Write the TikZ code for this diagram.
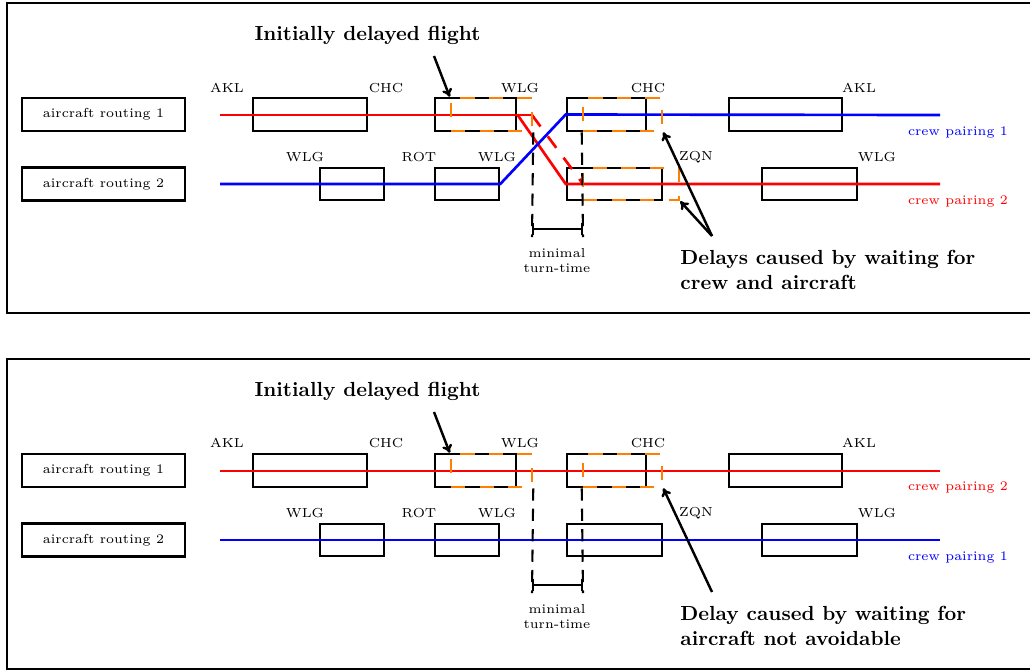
\documentclass[tikz,border=0pt]{standalone}
\usetikzlibrary{fit,arrows.meta}
\begin{document}
\begin{tikzpicture}[x=0.49pt,y=-0.49pt,
  frame/.style={line width=1.3pt},
  flight/.style={draw,line width=1.25pt,inner sep=0pt},
  delayed/.style={draw=orange,line width=1.25pt,dash pattern=on 7pt off 7pt,inner sep=0pt},
  routing/.style={draw,line width=1.25pt,inner sep=0pt,minimum width=79.9pt,minimum height=16.2pt,font=\fontsize{6.4}{7.7}\selectfont},
  airport/.style={inner sep=0pt,font=\fontsize{6.4}{7.7}\selectfont},
  route/.style={line width=1.3pt},
  reddash/.style={line width=1.3pt,red,dash pattern=on 7pt off 6pt},
  turn/.style={line width=1pt,dash pattern=on 6pt off 4pt},
  interval/.style={line width=1pt,{Bar[width=6pt]}-{Bar[width=6pt]}},
  callout/.style={inner sep=0pt,font=\fontsize{10}{12}\selectfont\bfseries,align=left},
  pointer/.style={line width=1.2pt,-{To[length=4pt,width=5pt]}},
]
\useasboundingbox (0,0) rectangle (1030,670);

% ================= top panel =================
\draw[frame] (1030,3) -- (7,3) -- (7,313) -- (1030,313);
\node[routing] (a-r1) at (103.5,114.5) {aircraft routing 1};
\node[routing] (a-r2) at (103.5,184) {aircraft routing 2};
\node[flight, fit={(253,98) (367,131)}] (a-f11) {};
\node[flight, fit={(435,98) (516,131)}] (a-f12) {};
\node[flight, fit={(567,98) (646,131)}] (a-f13) {};
\node[flight, fit={(729,98) (842,131)}] (a-f14) {};
\node[flight, fit={(320,168) (384,200)}] (a-f21) {};
\node[flight, fit={(435,168) (499,200)}] (a-f22) {};
\node[flight, fit={(567,168) (662,200)}] (a-f23) {};
\node[flight, fit={(762,168) (857,200)}] (a-f24) {};
\node[airport] (a-l1) at (227,88) {AKL};
\node[airport] (a-l2) at (386,88) {CHC};
\node[airport] (a-l3) at (520,88) {WLG};
\node[airport] (a-l4) at (648,88) {CHC};
\node[airport] (a-l5) at (859,88) {AKL};
\node[airport] (a-m1) at (305,157) {WLG};
\node[airport] (a-m2) at (419,157) {ROT};
\node[airport] (a-m3) at (497,157) {WLG};
\node[airport] (a-m4) at (696,157) {ZQN};
\node[airport] (a-m5) at (877,157) {WLG};
\coordinate (a-s1) at (220,115);
\coordinate (a-e1) at (940,115);
\coordinate (a-s2) at (220,184);
\coordinate (a-e2) at (940,184);
\coordinate (a-k2) at (532,115);
\coordinate (a-k4) at (583,184);
\draw[route,red] (a-s1) -- (a-k2);
\draw[route,red] (a-f12.east) -- (a-f23.west) -- (a-e2);
\draw[reddash] (a-k2) -- (a-k4);
\draw[route,blue] (a-s2) -- (a-f22.east) -- (a-f13.west) -- (a-e1);
\node[delayed, fit={(451,98) (532,131)}] (a-d1) {};
\node[delayed, fit={(583,98) (662,131)}] (a-d2) {};
\node[delayed, fit={(583,168) (679,200)}] (a-d3) {};
\coordinate (a-v1) at (532,237);
\coordinate (a-v2) at (583,237);
\draw[turn] (a-d1.south east) -- (a-v1);
\draw[turn] (a-d2.south west) -- (a-v2);
\coordinate (a-t1) at (532,229);
\coordinate (a-t2) at (583,229);
\draw[interval] (a-t1) -- (a-t2);
\node[airport, align=center] (a-mtt) at (557,260.5) {minimal\\turn-time};
\node[airport, text=blue] (a-c1) at (958,132) {crew pairing 1};
\node[airport, text=red] (a-c2) at (958,201) {crew pairing 2};
\node[callout, anchor=base] (a-init) at (367.5,40) {Initially delayed flight};
\coordinate (a-p1) at (434,56);
\draw[pointer] (a-p1) -- (a-d1.north west);
\node[callout, anchor=north west] (a-why) at (680,250) {Delays caused by waiting for\\crew and aircraft};
\coordinate (a-p2) at (712,236);
\draw[pointer] (a-p2) -- (a-d2.south east);
\draw[pointer] (a-p2) -- (a-d3.south east);

% ================= bottom panel =================
\begin{scope}[shift={(0,356)}]
\draw[frame] (1030,3) -- (7,3) -- (7,313) -- (1030,313);
\node[routing] (b-r1) at (103.5,114.5) {aircraft routing 1};
\node[routing] (b-r2) at (103.5,184) {aircraft routing 2};
\node[flight, fit={(253,98) (367,131)}] (b-f11) {};
\node[flight, fit={(435,98) (516,131)}] (b-f12) {};
\node[flight, fit={(567,98) (646,131)}] (b-f13) {};
\node[flight, fit={(729,98) (842,131)}] (b-f14) {};
\node[flight, fit={(320,168) (384,200)}] (b-f21) {};
\node[flight, fit={(435,168) (499,200)}] (b-f22) {};
\node[flight, fit={(567,168) (662,200)}] (b-f23) {};
\node[flight, fit={(762,168) (857,200)}] (b-f24) {};
\node[airport] (b-l1) at (227,87) {AKL};
\node[airport] (b-l2) at (386,87) {CHC};
\node[airport] (b-l3) at (520,87) {WLG};
\node[airport] (b-l4) at (648,87) {CHC};
\node[airport] (b-l5) at (859,87) {AKL};
\node[airport] (b-m1) at (305,157) {WLG};
\node[airport] (b-m2) at (419,157) {ROT};
\node[airport] (b-m3) at (497,157) {WLG};
\node[airport] (b-m4) at (696,157) {ZQN};
\node[airport] (b-m5) at (877,157) {WLG};
\coordinate (b-s1) at (220,115);
\coordinate (b-e1) at (940,115);
\coordinate (b-s2) at (220,184);
\coordinate (b-e2) at (940,184);
\draw[route,red] (b-s1) -- (b-e1);
\draw[route,blue] (b-s2) -- (b-e2);
\node[delayed, fit={(451,98) (532,131)}] (b-d1) {};
\node[delayed, fit={(583,98) (662,131)}] (b-d2) {};
\coordinate (b-v1) at (532,237);
\coordinate (b-v2) at (583,237);
\draw[turn] (b-d1.south east) -- (b-v1);
\draw[turn] (b-d2.south west) -- (b-v2);
\coordinate (b-t1) at (532,229);
\coordinate (b-t2) at (583,229);
\draw[interval] (b-t1) -- (b-t2);
\node[airport, align=center] (b-mtt) at (557,260.5) {minimal\\turn-time};
\node[airport, text=red] (b-c1) at (958,131) {crew pairing 2};
\node[airport, text=blue] (b-c2) at (958,201) {crew pairing 1};
\node[callout, anchor=base] (b-init) at (367.5,40) {Initially delayed flight};
\coordinate (b-p1) at (434,56);
\draw[pointer] (b-p1) -- (b-d1.north west);
\node[callout, anchor=north west] (b-why) at (680,250) {Delay caused by waiting for\\aircraft not avoidable};
\coordinate (b-p2) at (712,236);
\draw[pointer] (b-p2) -- (b-d2.south east);
\end{scope}
\end{tikzpicture}
\end{document}
